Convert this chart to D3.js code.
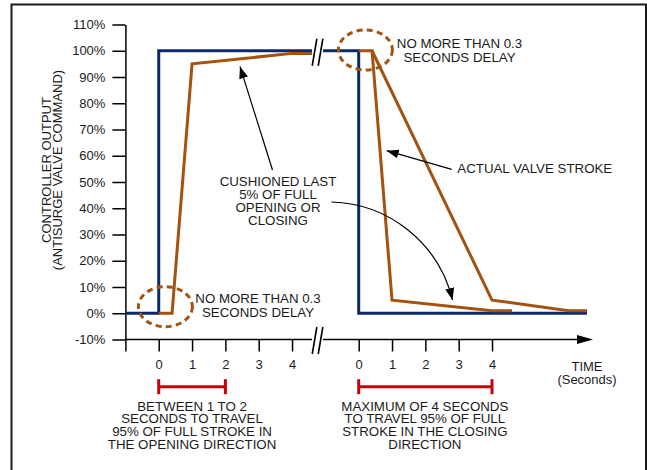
<!DOCTYPE html>
<html><head><meta charset="utf-8">
<script src="https://cdn.jsdelivr.net/npm/d3@7"></script>
<style>
html,body{margin:0;padding:0;background:#fff;}
svg{display:block;font-family:"Liberation Sans",Arial,Helvetica,sans-serif;}
</style></head><body>
<svg id="chart" width="647" height="470"></svg>
<script>
// ---------- data ----------
const yTickValues = [-10, 0, 10, 20, 30, 40, 50, 60, 70, 80, 90, 100, 110];
const xTickValues = [-1, 0, 1, 2, 3, 4, 6, 7, 8, 9, 10];
const xTickLabels = ["", "0", "1", "2", "3", "4", "0", "1", "2", "3", "4"];
const breakOffset = 6;            // right (closing) panel is drawn 6 s further along
const breakStart = 4.6, breakEnd = 4.93;

// controller command (blue)
const cmdOpenTime = [-1, 0, 0, 4.6];
const cmdOpenValue = [0, 0, 100, 100];
const cmdCloseTime = [-1.07, 0, 0, 6.85];
const cmdCloseValue = [100, 100, 0, 0];
// actual valve stroke (brown)
const strokeOpenTime = [0, 0.4, 1, 4, 4.6];
const strokeOpenValue = [0, 0, 95, 99, 99];
const fastCloseTime = [0, 0.4, 1, 4, 4.6];
const fastCloseValue = [100, 100, 5, 1, 1];
const slowCloseTime = [0.4, 4, 6.3, 6.85];
const slowCloseValue = [100, 5, 1, 1];
// travel-time ranges (red bars)
const openRange = [0, 2];
const closeRange = [0, 4];

const BLUE = "#0c2a6a", BROWN = "#a4520f", RED = "#c8000a", INK = "#1a1a1a";
const FS = 13.3;

// ---------- scales ----------
const svg = d3.select("#chart");
const x = d3.scaleLinear().domain([-1, 13]).range([125.4, 592]);
const y = d3.scaleLinear().domain([-10, 110]).range([339.5, 24.5]);
const zip = (a, b, off = 0) => a.map((t, i) => [t + off, b[i]]);
const line = d3.line().x(d => x(d[0])).y(d => y(d[1]));

// frame
svg.append("path").attr("d", "M11.5,475 V4.5 H646 V475")
  .attr("fill", "none").attr("stroke", INK).attr("stroke-width", 2);

// markers
const defs = svg.append("defs");
defs.append("marker").attr("id", "ah").attr("markerUnits", "userSpaceOnUse")
  .attr("viewBox", "0 -5 12 10").attr("refX", 12).attr("refY", 0)
  .attr("markerWidth", 12).attr("markerHeight", 10).attr("orient", "auto")
  .append("path").attr("d", "M0,-4.5L12,0L0,4.5Z").attr("fill", "#000");

// ---------- axes ----------
const yAxis = svg.append("g").attr("transform", `translate(${x(-1)},0)`)
  .call(d3.axisLeft(y).tickValues(yTickValues).tickSize(13).tickSizeOuter(0).tickPadding(7)
    .tickFormat(d => d + "%"));
yAxis.selectAll("path,line").attr("stroke", "#000").attr("stroke-width", 1.5);
yAxis.selectAll("text").attr("font-size", 13).attr("fill", INK)
  .attr("font-family", '"Liberation Sans",Arial,sans-serif');

const xAxis = svg.append("g").attr("transform", `translate(0,${y(-10)})`)
  .call(d3.axisBottom(x).tickValues(xTickValues).tickSize(12).tickPadding(8)
    .tickFormat((d, i) => xTickLabels[i]));
xAxis.select(".domain").remove();
xAxis.selectAll("line").attr("stroke", "#000").attr("stroke-width", 1.5);
xAxis.selectAll("text").attr("font-size", 13).attr("fill", INK)
  .attr("font-family", '"Liberation Sans",Arial,sans-serif');

// broken x-axis line + arrow
const y0 = y(-10);
svg.append("line").attr("x1", x(-1)).attr("x2", x(breakStart)).attr("y1", y0).attr("y2", y0)
  .attr("stroke", "#000").attr("stroke-width", 1.5);
svg.append("line").attr("x1", x(breakEnd)).attr("x2", x(12.7)).attr("y1", y0).attr("y2", y0)
  .attr("stroke", "#000").attr("stroke-width", 1.5);
svg.append("path")
  .attr("d", `M${x(12.55)},${y0 - 4.5} L${x(13.03)},${y0} L${x(12.55)},${y0 + 4.5} Z`)
  .attr("fill", "#000");

// break slashes
function slashes(cy) {
  [x(breakStart) + 2.5, x(breakEnd) - 2.5].forEach(cx => {
    svg.append("line").attr("x1", cx - 2.3).attr("y1", cy + 13.5)
      .attr("x2", cx + 2.3).attr("y2", cy - 13.5)
      .attr("stroke", "#000").attr("stroke-width", 1.6);
  });
}
slashes(y(100) + 1.5);
slashes(y0 + 1);

// ---------- series ----------
function drawLine(data, color) {
  svg.append("path").attr("d", line(data)).attr("fill", "none")
    .attr("stroke", color).attr("stroke-width", 3)
    .attr("stroke-linejoin", "miter").attr("stroke-miterlimit", 10);
}
drawLine(zip(cmdOpenTime, cmdOpenValue), BLUE);
drawLine(zip(cmdCloseTime, cmdCloseValue, breakOffset), BLUE);
drawLine(zip(strokeOpenTime, strokeOpenValue), BROWN);
drawLine(zip(fastCloseTime, fastCloseValue, breakOffset), BROWN);
drawLine(zip(slowCloseTime, slowCloseValue, breakOffset), BROWN);

// dashed delay circles
[[0.2, 2.5], [breakOffset + 0.2, 100.3]].forEach(([t, v]) => {
  svg.append("ellipse").attr("cx", x(t)).attr("cy", y(v)).attr("rx", 27).attr("ry", 20)
    .attr("fill", "none").attr("stroke", BROWN).attr("stroke-width", 3)
    .attr("stroke-dasharray", "6,4.2");
});

// red range bars
function rangeBar(r, off) {
  const yb = 386.7, x1 = x(r[0] + off), x2 = x(r[1] + off);
  const g = svg.append("g").attr("stroke", RED).attr("stroke-width", 3);
  g.append("line").attr("x1", x1).attr("x2", x2).attr("y1", yb).attr("y2", yb);
  g.append("line").attr("x1", x1).attr("x2", x1).attr("y1", yb - 7.5).attr("y2", yb + 7.5);
  g.append("line").attr("x1", x2).attr("x2", x2).attr("y1", yb - 7.5).attr("y2", yb + 7.5);
}
rangeBar(openRange, 0);
rangeBar(closeRange, breakOffset);

// ---------- text ----------
function label(lines, cx, baseline, step, anchor = "middle", size = FS) {
  const t = svg.append("text").attr("font-size", size).attr("fill", INK).attr("text-anchor", anchor);
  lines.forEach((s, i) => t.append("tspan").attr("x", cx).attr("y", baseline + i * step).text(s));
}
label(["NO MORE THAN 0.3", "SECONDS DELAY"], 258, 302.8, 13.8);
label(["NO MORE THAN 0.3", "SECONDS DELAY"], 459.5, 47.6, 14);
label(["CUSHIONED LAST", "5% OF FULL", "OPENING OR", "CLOSING"], 278, 186.2, 12.8);
label(["ACTUAL VALVE STROKE"], 457.3, 172.8, 0, "start");
label(["TIME"], 587, 370.5, 0, "middle", 13);
label(["(Seconds)"], 587, 383.5, 0, "middle", 13);
label(["BETWEEN 1 TO 2", "SECONDS TO TRAVEL", "95% OF FULL STROKE IN", "THE OPENING DIRECTION"],
  x(1), 410.5, 12.8);
label(["MAXIMUM OF 4 SECONDS", "TO TRAVEL 95% OF FULL", "STROKE IN THE CLOSING", "DIRECTION"],
  x(2 + breakOffset) - 0.5, 410.5, 12.8);

// y title
const yt = svg.append("text").attr("transform", "translate(0,170) rotate(-90)")
  .attr("text-anchor", "middle").attr("font-size", 13).attr("fill", INK);
yt.append("tspan").attr("x", 0).attr("y", 50.5).text("CONTROLLER OUTPUT");
yt.append("tspan").attr("x", 0).attr("y", 62.3).text("(ANTISURGE VALVE COMMAND)");

// annotation arrows
svg.append("line").attr("x1", 272.5).attr("y1", 170).attr("x2", 240).attr("y2", 66.5)
  .attr("stroke", "#000").attr("stroke-width", 1.2).attr("marker-end", "url(#ah)");
svg.append("line").attr("x1", 451.7).attr("y1", 169.3).attr("x2", 386.7).attr("y2", 150.7)
  .attr("stroke", "#000").attr("stroke-width", 1.2).attr("marker-end", "url(#ah)");
svg.append("path").attr("d", "M331.5,202 A128,128 0 0,1 452.5,300")
  .attr("fill", "none").attr("stroke", "#000").attr("stroke-width", 1.2)
  .attr("marker-end", "url(#ah)");
</script>
</body></html>
